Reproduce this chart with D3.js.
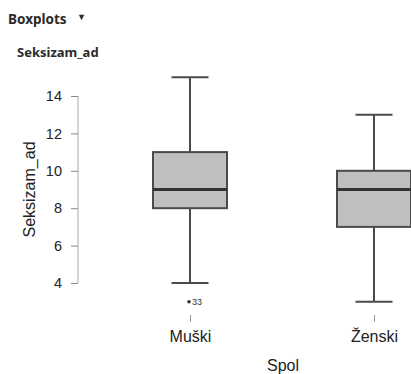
<!DOCTYPE html>
<html><head><meta charset="utf-8">
<script src="https://cdn.jsdelivr.net/npm/d3@7"></script>
<style>body{margin:0;background:#fff}svg{display:block}</style>
</head><body>
<script>
const categories = ["Muški", "Ženski"];
const mins = [4, 3];
const q1s = [8, 7];
const medians = [9, 9];
const q3s = [11, 10];
const maxs = [15, 13];
const outlierValues = [3];
const outlierGroups = ["Muški"];
const outlierLabels = ["33"];
const yTicks = [4, 6, 8, 10, 12, 14];

const W = 411, H = 374;
const svg = d3.select("body").append("svg").attr("width", W).attr("height", H);
const font = "Arial, 'Liberation Sans', sans-serif";
const hfont = "'Noto Sans', 'Open Sans', sans-serif";

const y = d3.scaleLinear().domain([4, 14]).range([283, 96]);
const x = d3.scalePoint().domain(categories).range([190, 374]);

svg.append("text").attr("x", 8).attr("y", 24).attr("font-family", hfont)
  .attr("font-size", 13.5).attr("font-weight", "bold").attr("fill", "#2a2a2a").text("Boxplots");
svg.append("text").attr("x", 77).attr("y", 20).attr("font-family", hfont)
  .attr("font-size", 9).attr("fill", "#2a2a2a").text("▼");
svg.append("text").attr("x", 17).attr("y", 57).attr("font-family", hfont)
  .attr("font-size", 13).attr("font-weight", "bold").attr("fill", "#2a2a2a").text("Seksizam_ad");

// y axis
const yAxis = svg.append("g").attr("transform", "translate(78,0)")
  .call(d3.axisLeft(y).tickValues(yTicks).tickSize(7).tickPadding(9));
yAxis.select(".domain").attr("stroke", "#aaa").attr("d", `M0,${y(4)}V${y(14)}`);
yAxis.selectAll(".tick line").attr("stroke", "#888");
yAxis.selectAll(".tick text").attr("font-family", font).attr("font-size", 14.5).attr("fill", "#222");

svg.append("text").attr("transform", `translate(35,${(y(4)+y(14))/2}) rotate(-90)`)
  .attr("text-anchor", "middle").attr("font-family", font).attr("font-size", 16)
  .attr("fill", "#222").text("Seksizam_ad");

// x axis (ticks only)
const xAxis = svg.append("g").attr("transform", "translate(0,315)")
  .call(d3.axisBottom(x).tickSize(7).tickPadding(6));
xAxis.select(".domain").remove();
xAxis.selectAll(".tick line").attr("stroke", "#999");
xAxis.selectAll(".tick text").attr("font-family", font).attr("font-size", 16).attr("fill", "#222")
  .attr("dy", null).attr("y", 27);

svg.append("text").attr("x", 283).attr("y", 371).attr("text-anchor", "middle")
  .attr("font-family", font).attr("font-size", 16).attr("fill", "#222").text("Spol");

// boxes
const boxW = 74, capW = 37;
const stroke = "#4a4a4a";
categories.forEach((c, i) => {
  const cx = x(c);
  const g = svg.append("g");
  g.append("line").attr("x1", cx).attr("x2", cx).attr("y1", y(maxs[i])).attr("y2", y(q3s[i]))
    .attr("stroke", stroke).attr("stroke-width", 2);
  g.append("line").attr("x1", cx).attr("x2", cx).attr("y1", y(q1s[i])).attr("y2", y(mins[i]))
    .attr("stroke", stroke).attr("stroke-width", 2);
  [maxs[i], mins[i]].forEach(v => g.append("line").attr("x1", cx - capW/2).attr("x2", cx + capW/2)
    .attr("y1", y(v)).attr("y2", y(v)).attr("stroke", stroke).attr("stroke-width", 2));
  g.append("rect").attr("x", cx - boxW/2).attr("width", boxW)
    .attr("y", y(q3s[i])).attr("height", y(q1s[i]) - y(q3s[i]))
    .attr("fill", "#bfbfbf").attr("stroke", stroke).attr("stroke-width", 2);
  g.append("line").attr("x1", cx - boxW/2).attr("x2", cx + boxW/2)
    .attr("y1", y(medians[i])).attr("y2", y(medians[i]))
    .attr("stroke", "#333").attr("stroke-width", 3);
});

outlierValues.forEach((v, i) => {
  const cx = x(outlierGroups[i]);
  svg.append("circle").attr("cx", cx - 1).attr("cy", y(v)).attr("r", 1.8).attr("fill", "#333");
  svg.append("text").attr("x", cx + 2).attr("y", y(v) + 3).attr("font-family", font)
    .attr("font-size", 9).attr("fill", "#333").text(outlierLabels[i]);
});
</script>
</body></html>
